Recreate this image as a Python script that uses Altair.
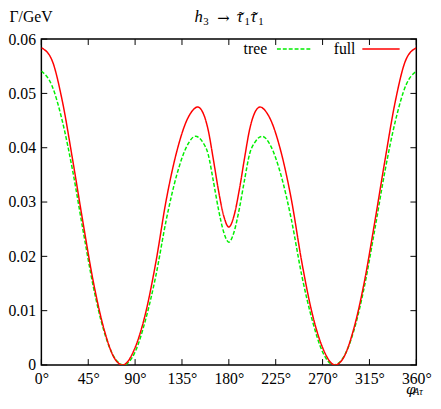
import altair as alt
import pandas as pd

# ---- data ----
full_angle = [0, 10, 20, 30, 40, 50, 60, 70, 78, 90, 100, 110, 120, 130, 140, 145, 150, 155, 160, 165, 170, 175, 180,
              185, 190, 195, 200, 205, 210, 215, 220, 230, 240, 250, 260, 270, 282, 290, 300, 310, 320, 330, 340, 350, 360]
full_value = [0.0584, 0.0562, 0.0487, 0.0378, 0.0262, 0.0152, 0.0067, 0.0013, 0.0000, 0.0032, 0.0095, 0.0190, 0.0305,
              0.0393, 0.0452, 0.0468, 0.0475, 0.0465, 0.0434, 0.0380, 0.0322, 0.0275, 0.0254,
              0.0275, 0.0322, 0.0380, 0.0434, 0.0465, 0.0475, 0.0468, 0.0452, 0.0393, 0.0305, 0.0190, 0.0095,
              0.0032, 0.0000, 0.0013, 0.0067, 0.0152, 0.0262, 0.0378, 0.0487, 0.0562, 0.0584]

tree_angle = [0, 10, 20, 30, 40, 50, 60, 70, 79, 90, 100, 110, 120, 130, 140, 148, 155, 160, 165, 170, 175, 180,
              185, 190, 195, 200, 205, 212, 220, 230, 240, 250, 260, 270, 281, 290, 300, 310, 320, 330, 340, 350, 360]
tree_value = [0.0541, 0.0515, 0.0450, 0.0358, 0.0248, 0.0143, 0.0063, 0.0014, 0.0000, 0.0024, 0.0083, 0.0165, 0.0268,
              0.0350, 0.0404, 0.0421, 0.0410, 0.0389, 0.0340, 0.0287, 0.0245, 0.0226,
              0.0245, 0.0287, 0.0340, 0.0389, 0.0410, 0.0421, 0.0404, 0.0350, 0.0268, 0.0165, 0.0083, 0.0024,
              0.0000, 0.0014, 0.0063, 0.0143, 0.0248, 0.0358, 0.0450, 0.0515, 0.0541]

series_names = ["tree", "full"]
series_colors = ["#00ee00", "#ff0000"]
series_dash = [[4, 2], [1, 0]]
x_ticks = [0, 45, 90, 135, 180, 225, 270, 315, 360]
y_ticks = [0, 0.01, 0.02, 0.03, 0.04, 0.05, 0.06]
# title h_3 -> tau~_1 tau~_1, written as pieces
title_h, title_3, title_arrow, title_tau, title_1, title_tilde = "h", "3", "\u2192", "\u03c4", "1", "\u02dc"
y_title = "\u0393/GeV"
x_title = "\u03c6"
x_title_sub = "A\u03c4"

FONT = "Liberation Serif"
W, H = 382, 332

tree_df = pd.DataFrame({"angle": tree_angle, "width": tree_value, "series": "tree"})
full_df = pd.DataFrame({"angle": full_angle, "width": full_value, "series": "full"})
xt_df = pd.DataFrame({"angle": x_ticks})
yt_df = pd.DataFrame({"width": y_ticks})

xscale = alt.Scale(domain=[0, 360], nice=False, zero=False)
yscale = alt.Scale(domain=[0, 0.06], nice=False)
cscale = alt.Scale(domain=series_names, range=series_colors)
dscale = alt.Scale(domain=series_names, range=series_dash)

x_axis = alt.Axis(values=x_ticks, labelExpr="datum.value + '°'", ticks=False, domain=False, grid=False,
                  labelPadding=6, labelFlush=False, title=x_title, titleX=371, titleY=29,
                  titleAlign="left", titleBaseline="alphabetic", titleFontStyle="italic",
                  titleFont="DejaVu Serif", titleFontSize=14)
y_axis = alt.Axis(values=y_ticks, labelExpr="datum.value == 0 ? '0' : format(datum.value, '.2f')",
                  ticks=False, domain=False, grid=False, labelPadding=6, labelFlush=False,
                  title=y_title, titleAngle=0, titleX=-33, titleY=-18, titleAlign="left",
                  titleBaseline="alphabetic")

X = alt.X("angle:Q", scale=xscale, axis=x_axis)
Y = alt.Y("width:Q", scale=yscale, axis=y_axis)


def line_layer(df):
    return alt.Chart(df).mark_line(interpolate="monotone", strokeWidth=1.5, clip=True).encode(
        x=X, y=Y,
        color=alt.Color("series:N", scale=cscale, legend=None),
        strokeDash=alt.StrokeDash("series:N", scale=dscale, legend=None),
    )


tree_line = line_layer(tree_df)
full_line = line_layer(full_df)

tick_len = 6
xtick_bottom = alt.Chart(xt_df).mark_rule(color="black", strokeWidth=1).encode(
    x=X, y=alt.value(H), y2=alt.value(H - tick_len))
xtick_top = alt.Chart(xt_df).mark_rule(color="black", strokeWidth=1).encode(
    x=X, y=alt.value(0), y2=alt.value(tick_len))
ytick_left = alt.Chart(yt_df).mark_rule(color="black", strokeWidth=1).encode(
    y=Y, x=alt.value(0), x2=alt.value(tick_len))
ytick_right = alt.Chart(yt_df).mark_rule(color="black", strokeWidth=1).encode(
    y=Y, x=alt.value(W), x2=alt.value(W - tick_len))


def label(text, x, y, size=16, style="normal", align="left", font=FONT, baseline="alphabetic"):
    return alt.Chart(pd.DataFrame({"t": [text]})).mark_text(
        font=font, fontSize=size, fontStyle=style, align=align, baseline=baseline, color="black"
    ).encode(text="t:N", x=alt.value(x), y=alt.value(y))


cx = W / 2
tb = -17
title_parts = [
    label(title_h, cx - 35, tb, 17, "italic"),
    label(title_3, cx - 26, tb + 3, 11),
    label(title_arrow, cx - 5.5, tb - 4, 15, align="center", font="DejaVu Serif", baseline="middle"),
    label(title_tau, cx + 8, tb, 17, "italic"),
    label(title_tilde, cx + 13, tb + 1, 17, align="center"),
    label(title_1, cx + 16, tb + 3, 11),
    label(title_tau, cx + 22, tb, 17, "italic"),
    label(title_tilde, cx + 27, tb + 1, 17, align="center"),
    label(title_1, cx + 30, tb + 3, 11),
]

sub_mark = label(x_title_sub, 379, H + 31, 10, "italic")

# manual gnuplot-style key: label then sample
leg_tree_text = label(series_names[0], 230, 15, align="right")
leg_tree_line = alt.Chart(pd.DataFrame({"s": [series_names[0]]})).mark_rule(
    strokeWidth=1.5, strokeDash=series_dash[0], color=series_colors[0]).encode(
    x=alt.value(240), x2=alt.value(276), y=alt.value(10))
leg_full_text = label(series_names[1], 320, 15, align="right")
leg_full_line = alt.Chart(pd.DataFrame({"s": [series_names[1]]})).mark_rule(
    strokeWidth=1.5, color=series_colors[1]).encode(
    x=alt.value(327), x2=alt.value(365), y=alt.value(10))

chart = alt.layer(
    tree_line, full_line, xtick_bottom, xtick_top, ytick_left, ytick_right,
    *title_parts, sub_mark, leg_tree_text, leg_tree_line, leg_full_text, leg_full_line,
).properties(
    width=W, height=H,
    autosize=alt.AutoSizeParams(type="none"),
    padding={"left": 34, "top": 28, "right": 17, "bottom": 32},
).configure_view(
    stroke="black", strokeWidth=1.5
).configure_axis(
    labelFont=FONT, labelFontSize=16, labelColor="black",
    titleFont=FONT, titleFontSize=16, titleFontWeight="normal", titleColor="black",
)

chart.save("out.html", embed_options={"renderer": "svg", "actions": False})
